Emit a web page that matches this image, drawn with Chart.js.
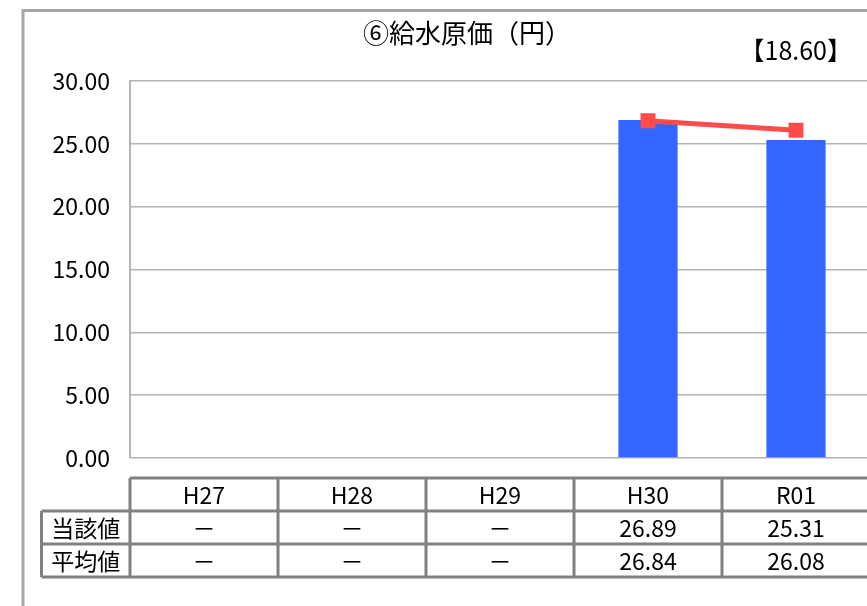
<!DOCTYPE html>
<html>
<head>
<meta charset="utf-8">
<script src="https://cdn.jsdelivr.net/npm/chart.js@4"></script>
<style>
  html, body { margin: 0; padding: 0; background: #fff; overflow: hidden; }
  #myChart { position: absolute; left: 0; top: 0; }
</style>
</head>
<body>
<canvas id="myChart" width="920" height="640"></canvas>
<script>
// data
var years = ['H27', 'H28', 'H29', 'H30', 'R01'];
var ownValues = [null, null, null, 26.89, 25.31];   // 当該値
var avgValues = [null, null, null, 26.84, 26.08];   // 平均値
var yTicks = [0, 5, 10, 15, 20, 25, 30];
var titleText = '⑥給水原価（円）';
var refText = '【18.60】';
var rowNames = ['当該値', '平均値'];

var FONT = '"Noto Sans CJK JP", "Noto Sans", sans-serif';

function fmt(v) {
    return v === null ? '－' : v.toFixed(2);
}

// draws frame, title and the data table under the plot
var tablePlugin = {
    id: 'tablePlugin',
    afterDraw: function(chart) {
        var ctx = chart.ctx;
        var area = chart.chartArea;
        var colW = (area.right - area.left) / years.length;
        ctx.save();

        // outer frame
        ctx.strokeStyle = '#a6a6a6';
        ctx.lineWidth = 3;
        ctx.beginPath();
        ctx.moveTo(23, 700);
        ctx.lineTo(23, 10.5);
        ctx.lineTo(1000, 10.5);
        ctx.stroke();

        // title and reference value
        ctx.fillStyle = '#000';
        ctx.font = '26px ' + FONT;
        ctx.textAlign = 'center';
        ctx.textBaseline = 'middle';
        ctx.fillText(titleText, 467, 33);
        ctx.font = '25px ' + FONT;
        ctx.textAlign = 'right';
        ctx.fillText(refText, 852, 50);

        // table
        var rowY = [478, 511, 544, 577];
        var labelLeft = 41.5;
        ctx.strokeStyle = '#808080';
        ctx.lineWidth = 3;
        ctx.beginPath();
        // header row
        ctx.moveTo(area.left, rowY[0]);
        ctx.lineTo(area.right, rowY[0]);
        for (var r = 1; r < rowY.length; r++) {
            ctx.moveTo(labelLeft, rowY[r]);
            ctx.lineTo(area.right, rowY[r]);
        }
        ctx.moveTo(labelLeft, rowY[1]);
        ctx.lineTo(labelLeft, rowY[3]);
        for (var c = 0; c <= years.length; c++) {
            var x = area.left + c * colW;
            ctx.moveTo(x, rowY[0]);
            ctx.lineTo(x, rowY[3]);
        }
        ctx.stroke();

        ctx.fillStyle = '#000';
        ctx.font = '23px ' + FONT;
        ctx.textAlign = 'center';
        ctx.textBaseline = 'middle';
        var rows = [ownValues, avgValues];
        for (var i = 0; i < years.length; i++) {
            var cx = area.left + (i + 0.5) * colW;
            ctx.fillText(years[i], cx, (rowY[0] + rowY[1]) / 2 + 1);
            for (var k = 0; k < rows.length; k++) {
                ctx.fillText(fmt(rows[k][i]), cx, (rowY[k + 1] + rowY[k + 2]) / 2 + 1);
            }
        }
        for (var k = 0; k < rowNames.length; k++) {
            ctx.fillText(rowNames[k], (labelLeft + area.left) / 2, (rowY[k + 1] + rowY[k + 2]) / 2 + 1);
        }
        ctx.restore();
    }
};

var ctx = document.getElementById('myChart').getContext('2d');
var chart = new Chart(ctx, {
    type: 'bar',
    data: {
        labels: years,
        datasets: [{
            type: 'line',
            label: '平均値',
            data: avgValues,
            borderColor: '#ff4b4b',
            backgroundColor: '#ff4b4b',
            borderWidth: 5,
            pointStyle: 'rect',
            pointRadius: 7,
            pointHoverRadius: 7,
            spanGaps: false,
            order: 0
        }, {
            type: 'bar',
            label: '当該値',
            data: ownValues,
            backgroundColor: '#3366ff',
            categoryPercentage: 1.0,
            barPercentage: 0.4,
            order: 1
        }]
    },
    options: {
        responsive: false,
        animation: false,
        devicePixelRatio: 1,
        layout: { padding: { left: 0, top: 81, right: 50, bottom: 182 } },
        plugins: {
            legend: { display: false },
            tooltip: { enabled: false },
            title: { display: false }
        },
        scales: {
            x: { display: false },
            y: {
                min: 0,
                max: 30,
                afterBuildTicks: function(scale) {
                    scale.ticks = yTicks.map(function(v) { return { value: v }; });
                },
                afterFit: function(scale) { scale.width = 130; },
                ticks: {
                    padding: 20,
                    color: '#000',
                    font: { family: FONT, size: 23 },
                    callback: function(v) { return v.toFixed(2); }
                },
                grid: { color: '#b4b4b4', lineWidth: 1.5, drawTicks: false },
                border: { color: '#b4b4b4', width: 2 }
            }
        }
    },
    plugins: [tablePlugin]
});
</script>
</body>
</html>
